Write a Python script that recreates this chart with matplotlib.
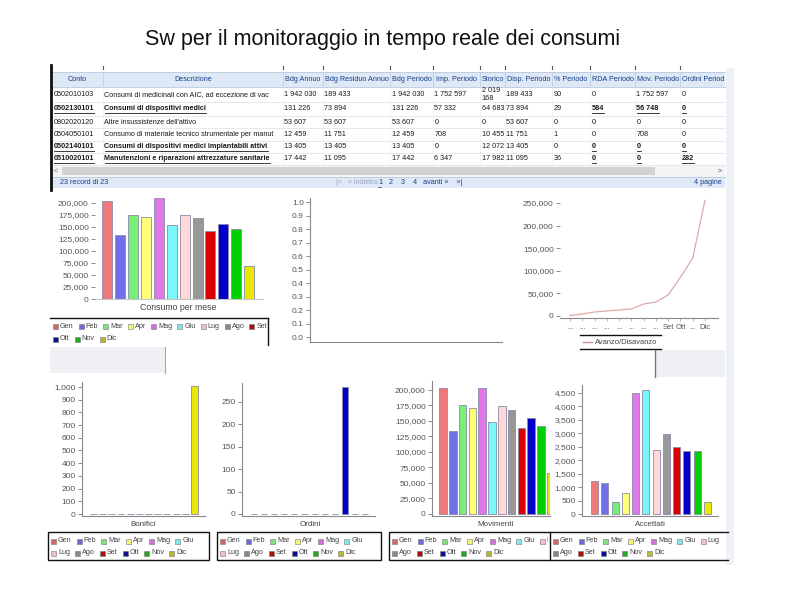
import matplotlib
matplotlib.use('Agg')
import matplotlib.pyplot as plt
from matplotlib.patches import Rectangle
import numpy as np

W, H = 794, 595
plt.rcParams['font.family'] = ['Liberation Sans', 'DejaVu Sans']

# ---------------- data ----------------
months = ['Gen', 'Feb', 'Mar', 'Apr', 'Mag', 'Giu', 'Lug', 'Ago', 'Set', 'Ott', 'Nov', 'Dic']
bar_colors = ['#f07878', '#7070e8', '#78f078', '#ffff78', '#e078e8', '#78f8f8',
              '#ffd8d8', '#989898', '#d80000', '#0000c8', '#00d000', '#e8e800']
legend_colors = ['#d06a6a', '#6a6ad8', '#80e080', '#f4f478', '#d070d8', '#80e8e8',
                 '#ecc4c4', '#888888', '#a81010', '#101090', '#20a820', '#b8b838']

consumo_per_mese = [203400, 133100, 175900, 171700, 209700, 153800,
                    175900, 169700, 141400, 157200, 144800, 68300]
avanzo = [1000, 4400, 8900, 11100, 13300, 15500, 26600, 31000, 46600, 85800, 128000, 255900]
avanzo_ticklabels = ['...', '...', '...', '...', '...', '...', '...', '...', 'Set', 'Ott', '...', 'Dic']
bonifici = [0, 0, 0, 0, 0, 0, 0, 0, 0, 0, 0, 1005]
ordini = [0, 0, 0, 0, 0, 0, 0, 0, 0, 282, 0, 0]
movimenti = [202700, 133900, 175800, 170400, 203800, 148900,
             174200, 167700, 138200, 154300, 141900, 65600]
accettati = [1224, 1137, 445, 766, 4512, 4599, 2374, 2992, 2510, 2337, 2337, 433]

table_headers = ['Conto', 'Descrizione', 'Bdg Annuo', 'Bdg Residuo Annuo', 'Bdg Periodo',
                 'Imp. Periodo', 'Storico', 'Disp. Periodo', '% Periodo', 'RDA Periodo',
                 'Mov. Periodo', 'Ordini Periodo']
row1 = ['0502010103', 'Consumi di medicinali con AIC, ad eccezione di vac', '1 942 030', '189 433',
        '1 942 030', '1 752 597', '2 019\n168', '189 433', '90', '0', '1 752 597', '0']
row2 = ['0502130101', 'Consumi di dispositivi medici', '131 226', '73 894', '131 226', '57 332',
        '64 683', '73 894', '29', '584', '56 748', '0']
row3 = ['0802020120', "Altre insussistenze dell'attivo", '53 607', '53 607', '53 607', '0',
        '0', '53 607', '0', '0', '0', '0']
row4 = ['0504050101', 'Consumo di materiale tecnico strumentale per manut', '12 459', '11 751',
        '12 459', '708', '10 455', '11 751', '1', '0', '708', '0']
row5 = ['0502140101', 'Consumi di dispositivi medici impiantabili attivi', '13 405', '13 405',
        '13 405', '0', '12 072', '13 405', '0', '0', '0', '0']
row6 = ['0510020101', 'Manutenzioni e riparazioni attrezzature sanitarie', '17 442', '11 095',
        '17 442', '6 347', '17 982', '11 095', '36', '0', '0', '282']
table_rows = [row1, row2, row3, row4, row5, row6]
link_rows = [1, 4, 5]

# ---------------- figure ----------------
fig = plt.figure(figsize=(W / 100, H / 100), dpi=100)
renderer = fig.canvas.get_renderer()
bg = fig.add_axes([0, 0, 1, 1])
bg.set_xlim(0, W)
bg.set_ylim(H, 0)
bg.axis('off')


def rect(x0, y0, x1, y1, **kw):
    r = Rectangle((x0, y0), x1 - x0, y1 - y0, **kw)
    bg.add_patch(r)
    return r


def hline(y, x0, x1, **kw):
    bg.plot([x0, x1], [y, y], **kw)


def vline(x, y0, y1, **kw):
    bg.plot([x, x], [y0, y1], **kw)


def ctext(x, y, s, clip, **kw):
    t = bg.text(x, y, s, clip_on=True, **kw)
    t.set_clip_path(Rectangle((clip[0], clip[1]), clip[2] - clip[0], clip[3] - clip[1],
                              transform=bg.transData))
    return t


def px_axes(x0, y0, x1, y1):
    ax = fig.add_axes([x0 / W, 1 - y1 / H, (x1 - x0) / W, (y1 - y0) / H])
    ax.patch.set_alpha(0)
    return ax


# title
bg.text(383, 40, 'Sw per il monitoraggio in tempo reale dei consumi', fontsize=15.5,
        ha='center', va='center', color='#111')

# right light strip
rect(726, 68, 734, 565, facecolor='#eef2f8', edgecolor='none')

# ---------------- table ----------------
col_edges = [52, 103, 283, 323, 390, 433, 480, 505, 552, 590, 635, 680, 725]
row_edges = [87, 102, 116, 128, 141, 153, 165]
hdr_color = '#15428b'
TF = 5.2

rect(52, 72, 725, 87, facecolor='#dfe8f6', edgecolor='none')
hline(72, 52, 725, color='#b8c8dc', lw=0.6)
hline(87, 52, 725, color='#b8c8dc', lw=0.6)
for x in col_edges[1:-1]:
    vline(x, 72, 87, color='#c0cde0', lw=0.6)
    vline(x, 66, 69, color='#555', lw=0.8)
for j, h in enumerate(table_headers):
    x0, x1 = col_edges[j], col_edges[j + 1]
    t = ctext((x0 + x1) / 2, 79.5, h, (x0 + 1, 72, x1 - 1, 87), fontsize=TF,
              color=hdr_color, ha='center', va='center')
    w = t.get_window_extent(renderer).width
    if w > (x1 - x0) - 4:
        t.set_ha('left')
        t.set_x(x0 + 2)

for k in range(1, len(row_edges)):
    hline(row_edges[k], 52, 725, color='#e4e4e4', lw=0.6)
for x in col_edges[1:-1]:
    vline(x, 87, 165, color='#efefef', lw=0.5)

for i, row in enumerate(table_rows):
    yc = (row_edges[i] + row_edges[i + 1]) / 2
    for j, val in enumerate(row):
        x0, x1 = col_edges[j], col_edges[j + 1]
        link = (i in link_rows) and (j in (0, 1, 9, 10, 11))
        t = ctext(x0 + 1.5, yc, val, (x0, row_edges[i], x1 - 1, row_edges[i + 1]),
                  fontsize=TF, color='#1a1a1a', ha='left', va='center',
                  fontweight='bold' if link else 'normal', linespacing=1.0)
        if link:
            bb = t.get_window_extent(renderer)
            xe = min(x0 + 1.5 + bb.width, x1 - 1)
            hline(yc + 4, x0 + 1.5, xe, color='#1a1a1a', lw=0.6)

# scroll bar row
rect(52, 165, 725, 177, facecolor='#f4f4f4', edgecolor='none')
rect(62, 167, 655, 175, facecolor='#d2d2d2', edgecolor='none')
bg.text(56, 171, '<', fontsize=5, color='#666', ha='center', va='center')
bg.text(720, 171, '>', fontsize=5, color='#444', ha='center', va='center')

# footer
rect(52, 177, 725, 188, facecolor='#dfe8f6', edgecolor='none')
hline(177, 52, 725, color='#b8c8dc', lw=0.6)
bg.text(60, 183, '23 record di 23', fontsize=TF, color=hdr_color, ha='left', va='center')
bg.text(336, 183, '|\u00ab   \u00ab indietro', fontsize=TF, color='#9aa8bc', ha='left', va='center')
bg.text(378, 183, '1', fontsize=TF, color=hdr_color, ha='left', va='center')
hline(186.5, 378, 381, color=hdr_color, lw=0.5)
bg.text(389, 183, '2    3    4   avanti \u00bb    \u00bb|', fontsize=TF, color=hdr_color,
        ha='left', va='center')
bg.text(722, 183, '4 pagine', fontsize=TF, color=hdr_color, ha='right', va='center')

# left black border
vline(51, 65, 190, color='#111', lw=2)

# ---------------- helpers for charts ----------------
TICKC = '#555'
AXC = '#888'


def style_ax(ax, left=True, bottom=True, spc=AXC):
    for s in ['top', 'right']:
        ax.spines[s].set_visible(False)
    ax.spines['left'].set_visible(left)
    ax.spines['bottom'].set_visible(bottom)
    ax.spines['left'].set_color(spc)
    ax.spines['bottom'].set_color(spc)
    ax.spines['left'].set_linewidth(0.8)
    ax.spines['bottom'].set_linewidth(0.8)
    ax.tick_params(axis='y', length=3, width=0.6, color='#777', labelsize=6,
                   labelcolor=TICKC, pad=1.5)


def bar_chart(box, values, xlim, ylim, yticks, width, left=True, bottom=True, spc=AXC):
    ax = px_axes(*box)
    x = np.arange(len(values))
    ax.bar(x, values, width=width, color=bar_colors, edgecolor='#8a8aa8', linewidth=0.6)
    ax.set_xlim(*xlim)
    ax.set_ylim(*ylim)
    ax.set_yticks(yticks)
    ax.set_yticklabels([f'{v:,}' for v in yticks])
    ax.set_xticks([])
    style_ax(ax, left, bottom, spc)
    return ax


def draw_legend(x_start, y_rows, rows, clip=None):
    for y, names in zip(y_rows, rows):
        x = x_start
        for name in names:
            i = months.index(name)
            sw = rect(x, y - 2.5, x + 5, y + 2.5, facecolor=legend_colors[i],
                      edgecolor='#777', lw=0.4)
            t = bg.text(x + 7, y, name, fontsize=5.2, color='#444', va='center', ha='left')
            if clip is not None:
                t.set_clip_on(True)
                t.set_clip_path(Rectangle((clip[0], clip[1]), clip[2] - clip[0],
                                          clip[3] - clip[1], transform=bg.transData))
                sw.set_clip_path(Rectangle((clip[0], clip[1]), clip[2] - clip[0],
                                           clip[3] - clip[1], transform=bg.transData))
            w = t.get_window_extent(renderer).width
            x += 7 + w + 5


# ---------------- chart A: consumo per mese ----------------
axA = bar_chart((95, 195, 263, 299), consumo_per_mese, (-0.97, 12.09), (0, 216667),
                list(range(0, 200001, 25000)), 0.78, left=False, bottom=True, spc='#c8c8c8')
bg.text(178, 308, 'Consumo per mese', fontsize=6.3, color='#444', ha='center', va='center')
hline(318, 50, 268, color='#111', lw=1)
vline(268, 318, 345, color='#111', lw=1)
draw_legend(53, [326, 339], [months[:9], months[9:]])
rect(50, 347, 165, 373, facecolor='#eef0f3', edgecolor='none')
vline(165, 347, 373, color='#aaa', lw=0.8)

# ---------------- chart B: empty ----------------
axB = px_axes(310, 198, 502, 342)
axB.set_xlim(0, 1)
axB.set_ylim(-0.037, 1.03)
bt = [round(0.1 * k, 1) for k in range(11)]
axB.set_yticks(bt)
axB.set_yticklabels([f'{v:.1f}' for v in bt])
axB.set_xticks([])
style_ax(axB)

# ---------------- chart C: avanzo/disavanzo ----------------
axC = px_axes(560, 196, 718, 318)
axC.plot(np.arange(12), avanzo, color='#dcaaaa', lw=0.9)
axC.set_xlim(-0.815, 12.06)
axC.set_ylim(-4425, 265487)
ct = list(range(0, 250001, 50000))
axC.set_yticks(ct)
axC.set_yticklabels([f'{v:,}' for v in ct])
axC.set_xticks(np.arange(12))
axC.set_xticklabels(avanzo_ticklabels)
style_ax(axC, left=False, bottom=True)
axC.tick_params(axis='x', length=2, width=0.5, color='#999', labelsize=5.5,
                labelcolor=TICKC, pad=2)
hline(335, 580, 661, color='#111', lw=1)
hline(349, 580, 661, color='#111', lw=1)
hline(342, 583, 592, color='#c09090', lw=1)
bg.text(595, 342, 'Avanzo/Disavanzo', fontsize=5.4, color='#444', ha='left', va='center')
rect(655, 350, 725, 377, facecolor='#eef0f3', edgecolor='none')
vline(655, 350, 377, color='#777', lw=1)

# ---------------- bottom charts ----------------
axD = bar_chart((82, 382, 205, 516), bonifici, (-1.25, 12.15), (-15.7, 1039),
                list(range(0, 1001, 100)), 0.76)
bg.text(143, 524, 'Bonifici', fontsize=5.8, color='#444', ha='center', va='center')

axE = bar_chart((242, 383, 375, 516), ordini, (-1.19, 11.98), (-4.46, 292),
                list(range(0, 251, 50)), 0.6)
bg.text(310, 524, 'Ordini', fontsize=5.8, color='#444', ha='center', va='center')

axF = bar_chart((432, 381, 550, 516), movimenti, (-1.12, 10.92), (-3226, 214516),
                list(range(0, 200001, 25000)), 0.76)
bg.text(496, 524, 'Movimenti', fontsize=5.8, color='#444', ha='center', va='center')

axG = bar_chart((582, 385, 718, 516), accettati, (-1.22, 12.03), (-74, 4798),
                list(range(0, 4501, 500)), 0.68)
bg.text(650, 524, 'Accettati', fontsize=5.8, color='#444', ha='center', va='center')

# bottom legends
rect(48, 532, 209, 560, facecolor='none', edgecolor='#111', lw=1)
draw_legend(51, [541, 553], [months[:6], months[6:]])
rect(217, 532, 381, 560, facecolor='none', edgecolor='#111', lw=1)
draw_legend(220, [541, 553], [months[:6], months[6:]])
rect(389, 532, 550, 560, facecolor='none', edgecolor='#111', lw=1)
draw_legend(392, [541, 553], [months[:7], months[7:]], clip=(389, 530, 548, 562))
hline(532, 550, 728, color='#111', lw=1)
hline(560, 550, 728, color='#111', lw=1)
draw_legend(553, [541, 553], [months[:7], months[7:]])

fig.savefig('out.png', dpi=100)
